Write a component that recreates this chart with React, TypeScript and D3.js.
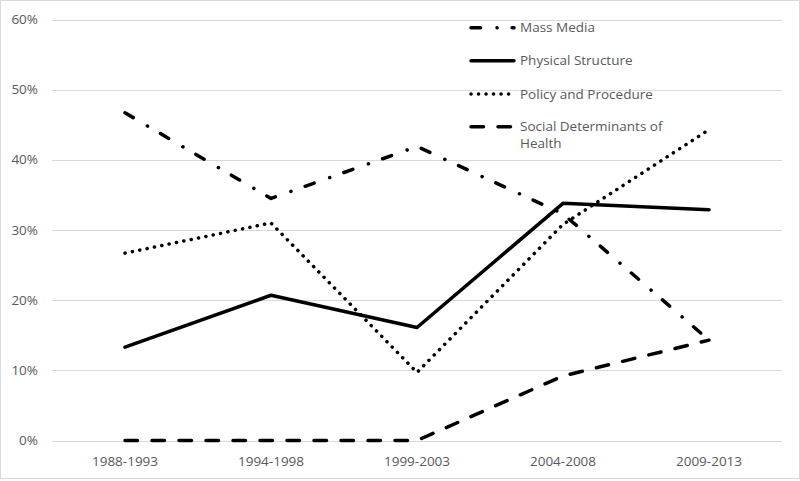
import React from "react";
import * as d3 from "d3";

const categories = ["1988-1993", "1994-1998", "1999-2003", "2004-2008", "2009-2013"];
const massMedia = [0.467, 0.345, 0.419, 0.323, 0.143];
const physicalStructure = [0.133, 0.207, 0.161, 0.338, 0.329];
const policyProcedure = [0.267, 0.31, 0.097, 0.308, 0.443];
const socialDeterminants = [0, 0, 0, 0.092, 0.143];
const yTicks = [0, 0.1, 0.2, 0.3, 0.4, 0.5, 0.6];

const W = 800;
const H = 481;
const FONT = "'Open Sans', 'Noto Sans', sans-serif";
const TEXT = "#595959";

const seriesList = [
  { name: ["Mass Media"], values: massMedia, dash: "9.5 16.5 0.1 15", cap: "round" },
  { name: ["Physical Structure"], values: physicalStructure, dash: null, cap: "round" },
  { name: ["Policy and Procedure"], values: policyProcedure, dash: "0.1 7.4", cap: "round" },
  { name: ["Social Determinants of", "Health"], values: socialDeterminants, dash: "12.5 14.5", cap: "round" },
];

export default function App() {
  const x = d3.scalePoint<string>().domain(categories).range([52, 782]).padding(0.5);
  const y = d3.scaleLinear().domain([0, 0.6]).range([440.5, 19.5]);
  const line = d3
    .line<number>()
    .x((_, i) => x(categories[i]) as number)
    .y((d) => y(d));
  const fmt = d3.format(".0%");
  const legendY = [27.7, 60.7, 94, 126.7];

  return (
    <svg
      width={W}
      height={H}
      style={{ position: "absolute", left: 0, top: 0, background: "#fff" }}
      fontFamily={FONT}
    >
      <rect x={0.5} y={0.5} width={W - 1} height={H - 3} fill="#fff" stroke="#d9d9d9" />
      {yTicks.map((t) => (
        <g key={t}>
          <line x1={52} x2={782} y1={Math.round(y(t)) + 0.5} y2={Math.round(y(t)) + 0.5} stroke="#d9d9d9" strokeWidth={1} />
          <text x={38} y={y(t)} dy="0.34em" textAnchor="end" fontSize={13.5} fill={TEXT}>
            {fmt(t)}
          </text>
        </g>
      ))}
      {categories.map((c) => (
        <text key={c} x={x(c)} y={465.5} textAnchor="middle" fontSize={13.5} fill={TEXT}>
          {c}
        </text>
      ))}
      {seriesList.map((s) => (
        <path
          key={s.name[0]}
          d={line(s.values) as string}
          fill="none"
          stroke="#000"
          strokeWidth={3.5}
          strokeLinejoin="round"
          strokeLinecap={s.cap as any}
          strokeDasharray={s.dash ?? undefined}
        />
      ))}
      {seriesList.map((s, i) => (
        <g key={"lg" + i}>
          <line
            x1={471}
            x2={514}
            y1={legendY[i]}
            y2={legendY[i]}
            stroke="#000"
            strokeWidth={3.5}
            strokeLinecap={s.cap as any}
            strokeDasharray={s.dash ?? undefined}
          />
          {s.name.map((n, j) => (
            <text key={n} x={520} y={legendY[i] + 4.6 + j * 17} fontSize={13.5} fill={TEXT}>
              {n}
            </text>
          ))}
        </g>
      ))}
    </svg>
  );
}
